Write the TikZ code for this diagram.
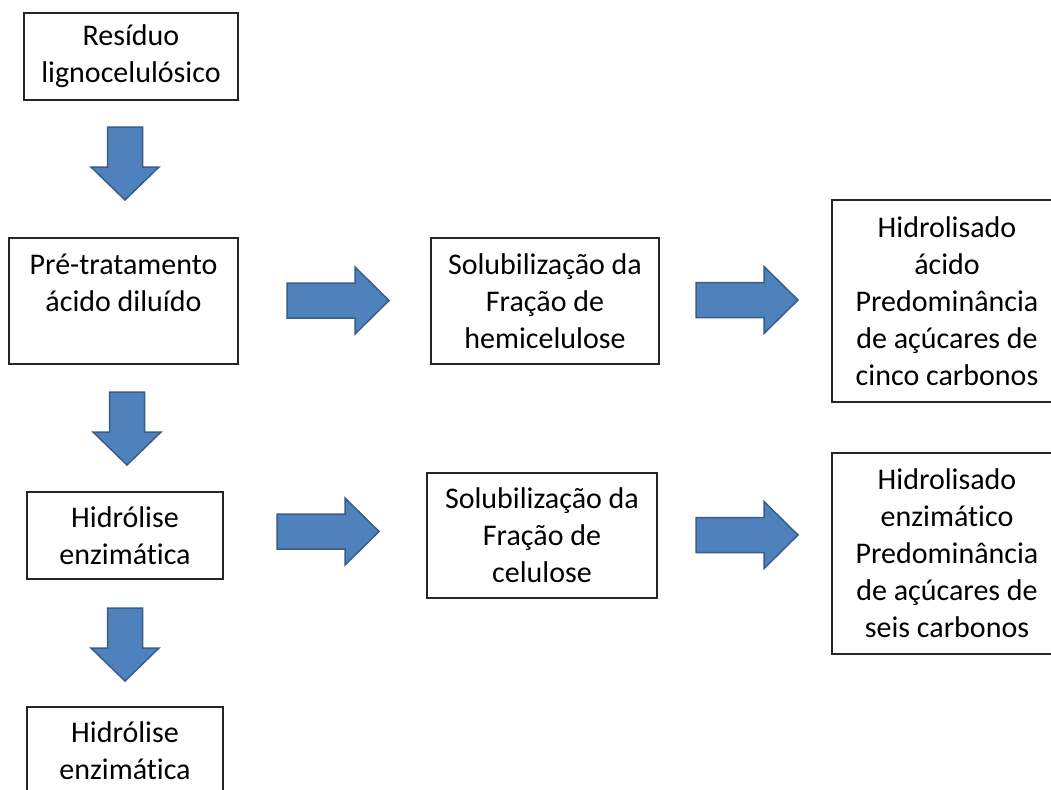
\documentclass[tikz,border=0pt]{standalone}
\usepackage{fontspec}
\setmainfont{Carlito}[Ligatures=NoCommon]
\definecolor{arrfill}{HTML}{4F81BD}
\definecolor{arrline}{HTML}{385D8A}
\tikzset{
  box/.style={draw=black!85, line width=1.6pt, rectangle, inner sep=0pt, align=center,
    font=\fontsize{30}{37}\selectfont, text=black},
  blockarr/.style={fill=arrfill, draw=arrline, line width=1.5pt, line join=miter},
  darrow/.pic={\path[blockarr] (-17.5,0) -- (17.5,0) -- (17.5,40) -- (34,40) -- (0,73) -- (-34,40) -- (-17.5,40) -- cycle;},
  rarrow/.pic={\path[blockarr] (0,-17.5) -- (68,-17.5) -- (68,-33.5) -- (102,0) -- (68,33.5) -- (68,17.5) -- (0,17.5) -- cycle;}
}
\begin{document}
\begin{tikzpicture}[x=1pt, y=-1pt]
\clip (0,0) rectangle (1051,789);
\fill[white] (0,0) rectangle (1051,789);
% boxes
\node[box, minimum width=214pt, minimum height=87pt] (res) at (131,56.5) {Resíduo\\lignocelulósico};
\node[box, minimum width=229pt, minimum height=126pt] (pre) at (123.5,301) {Pré-tratamento\\ácido diluído\\\mbox{}};
\node[box, minimum width=196pt, minimum height=87pt] (hid1) at (125,535.5) {Hidrólise\\enzimática};
\node[box, minimum width=196pt, minimum height=87pt] (hid2) at (125,750.5) {Hidrólise\\enzimática};
\node[box, minimum width=228pt, minimum height=126pt] (solh) at (545,301) {Solubilização da\\Fração de\\hemicelulose};
\node[box, minimum width=230pt, minimum height=125pt] (solc) at (542,535.5) {Solubilização da\\Fração de\\celulose};
\node[box, minimum width=230pt, minimum height=202pt] (hac) at (947,301) {Hidrolisado\\ácido\\Predominância\\de açúcares de\\cinco carbonos};
\node[box, minimum width=230pt, minimum height=201pt] (hen) at (947,553.5) {Hidrolisado\\enzimático\\Predominância\\de açúcares de\\seis carbonos};
% block arrows
\pic at (125,127) {darrow};
\pic at (127,392) {darrow};
\pic at (125,608) {darrow};
\pic at (287,300.5) {rarrow};
\pic at (696,300) {rarrow};
\pic at (277,531.5) {rarrow};
\pic at (696,535) {rarrow};
\end{tikzpicture}
\end{document}
